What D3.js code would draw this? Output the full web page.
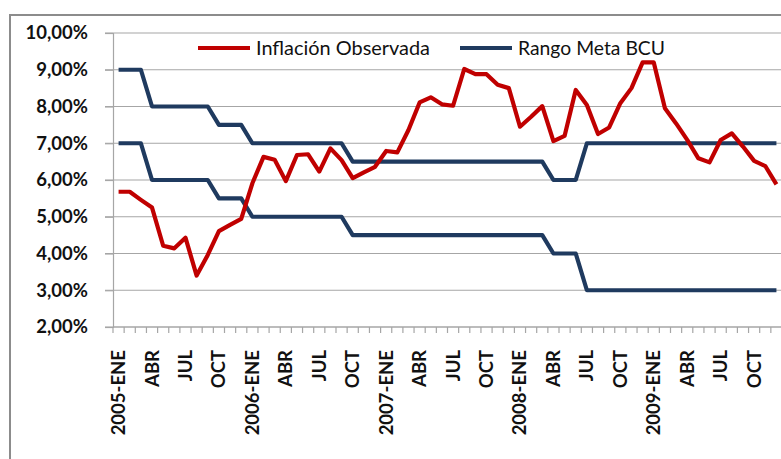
<!DOCTYPE html>
<html lang="es">
<head>
<meta charset="utf-8">
<script src="https://d3js.org/d3.v7.min.js"></script>
<style>
  body { margin: 0; background: #fff; }
  svg { display: block; }
</style>
</head>
<body>
<script>
// Inflacion observada (% anual), ene-2005 .. dic-2009
var inflacion = [
  5.68, 5.68, 5.46, 5.25, 4.21, 4.14, 4.43, 3.40, 3.96, 4.61, 4.78, 4.94,
  5.91, 6.63, 6.55, 5.97, 6.68, 6.70, 6.23, 6.86, 6.54, 6.05, 6.21, 6.36,
  6.79, 6.75, 7.36, 8.11, 8.25, 8.06, 8.02, 9.02, 8.88, 8.88, 8.59, 8.50,
  7.45, 7.72, 8.01, 7.06, 7.20, 8.45, 8.04, 7.25, 7.43, 8.09, 8.50, 9.20,
  9.20, 7.95, 7.54, 7.09, 6.59, 6.48, 7.09, 7.27, 6.91, 6.52, 6.38, 5.88
];
// Rango meta BCU: techo y piso
var rangoSup = [
  9, 9, 9, 8, 8, 8, 8, 8, 8, 7.5, 7.5, 7.5,
  7, 7, 7, 7, 7, 7, 7, 7, 7, 6.5, 6.5, 6.5,
  6.5, 6.5, 6.5, 6.5, 6.5, 6.5, 6.5, 6.5, 6.5, 6.5, 6.5, 6.5,
  6.5, 6.5, 6.5, 6, 6, 6, 7, 7, 7, 7, 7, 7,
  7, 7, 7, 7, 7, 7, 7, 7, 7, 7, 7, 7
];
var rangoInf = [
  7, 7, 7, 6, 6, 6, 6, 6, 6, 5.5, 5.5, 5.5,
  5, 5, 5, 5, 5, 5, 5, 5, 5, 4.5, 4.5, 4.5,
  4.5, 4.5, 4.5, 4.5, 4.5, 4.5, 4.5, 4.5, 4.5, 4.5, 4.5, 4.5,
  4.5, 4.5, 4.5, 4, 4, 4, 3, 3, 3, 3, 3, 3,
  3, 3, 3, 3, 3, 3, 3, 3, 3, 3, 3, 3
];
var anios = [2005, 2006, 2007, 2008, 2009];
var meses = ["ENE", "FEB", "MAR", "ABR", "MAY", "JUN", "JUL", "AGO", "SET", "OCT", "NOV", "DIC"];
var yTicks = [2, 3, 4, 5, 6, 7, 8, 9, 10];

// categorias "2005-ENE", "2005-FEB", ... (la etiqueta lleva el anio solo en enero)
var categorias = [];
anios.forEach(function(a) {
  meses.forEach(function(m) { categorias.push(a + "-" + m); });
});

var width = 781, height = 459;
var mLeft = 113, mTop = 33, mBottom = 327;
var mRight = mLeft + 60 * 11.15;

var svg = d3.select("body").append("svg")
  .attr("width", width)
  .attr("height", height);

// marco del grafico
svg.append("rect")
  .attr("x", 10).attr("y", 15)
  .attr("width", 800).attr("height", 500)
  .attr("fill", "#fff")
  .attr("stroke", "#8c8c8c")
  .attr("stroke-width", 2);

var x = d3.scaleBand().domain(categorias).range([mLeft, mRight]);
var y = d3.scaleLinear().domain([2, 10]).range([mBottom, mTop]);

var fmt = function(v) { return v.toFixed(2).replace(".", ",") + "%"; };

// grilla
svg.append("g").selectAll("line")
  .data(yTicks)
  .enter().append("line")
  .attr("x1", mLeft - 8).attr("x2", mRight)
  .attr("y1", function(d) { return y(d); })
  .attr("y2", function(d) { return y(d); })
  .attr("stroke", "#a6a6a6")
  .attr("stroke-width", 1.2);

// eje y
var yAxis = svg.append("g")
  .attr("transform", "translate(" + mLeft + ",0)")
  .call(d3.axisLeft(y).tickValues(yTicks).tickFormat(fmt).tickSize(8).tickPadding(17));
yAxis.select(".domain").attr("stroke", "#a6a6a6").attr("stroke-width", 1.2);
yAxis.selectAll(".tick line").attr("stroke", "#a6a6a6").attr("stroke-width", 1.2);
yAxis.selectAll("text")
  .attr("font-family", "Lato, 'Open Sans', sans-serif")
  .attr("font-weight", "bold")
  .attr("font-size", 18.5)
  .attr("fill", "#111");

// eje x: marcas entre categorias
var bordes = d3.range(61).map(function(i) { return mLeft + i * x.step(); });
svg.append("g").selectAll("line")
  .data(bordes)
  .enter().append("line")
  .attr("x1", function(d) { return d; }).attr("x2", function(d) { return d; })
  .attr("y1", mBottom).attr("y2", mBottom + 6)
  .attr("stroke", "#a6a6a6")
  .attr("stroke-width", 1.2);
svg.append("line")
  .attr("x1", mLeft).attr("x2", mRight)
  .attr("y1", mBottom).attr("y2", mBottom)
  .attr("stroke", "#a6a6a6")
  .attr("stroke-width", 1.2);

svg.append("g").selectAll("text")
  .data(categorias.filter(function(c, i) { return i % 3 === 0; }))
  .enter().append("text")
  .attr("transform", function(d) {
    return "translate(" + (x(d) + x.bandwidth() / 2 + 6.5) + ",350) rotate(-90)";
  })
  .attr("text-anchor", "end")
  .attr("font-family", "Lato, 'Open Sans', sans-serif")
  .attr("font-weight", "bold")
  .attr("font-size", 18.5)
  .attr("fill", "#111")
  .text(function(d) {
    var p = d.split("-");
    return p[1] === "ENE" ? d : p[1];
  });

// lineas
var linea = d3.line()
  .x(function(d, i) { return x(categorias[i]) + x.bandwidth() / 2; })
  .y(function(d) { return y(d); });

[[rangoSup, "#1f3a5f"], [rangoInf, "#1f3a5f"], [inflacion, "#c00000"]].forEach(function(s) {
  svg.append("path")
    .datum(s[0])
    .attr("d", linea)
    .attr("fill", "none")
    .attr("stroke", s[1])
    .attr("stroke-width", 4.2)
    .attr("stroke-linejoin", "round");
});

// leyenda
var leyenda = [
  { nombre: "Inflación Observada", color: "#c00000", x0: 198, largo: 174 },
  { nombre: "Rango Meta BCU", color: "#1f3a5f", x0: 460, largo: 147 }
];
var lg = svg.append("g").selectAll("g")
  .data(leyenda)
  .enter().append("g")
  .attr("transform", function(d) { return "translate(" + d.x0 + ",48)"; });
lg.append("line")
  .attr("x1", 0).attr("x2", 52)
  .attr("stroke", function(d) { return d.color; })
  .attr("stroke-width", 4.2);
lg.append("text")
  .attr("x", 58)
  .attr("dy", "0.36em")
  .attr("font-family", "Lato, 'Open Sans', sans-serif")
  .attr("font-size", 19)
  .attr("fill", "#111")
  .attr("textLength", function(d) { return d.largo; })
  .attr("lengthAdjust", "spacingAndGlyphs")
  .text(function(d) { return d.nombre; });
</script>
</body>
</html>
